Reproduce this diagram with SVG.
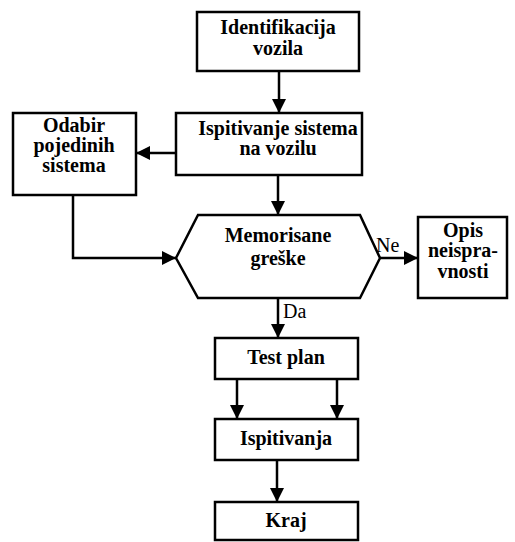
<svg xmlns="http://www.w3.org/2000/svg" width="515" height="542" viewBox="0 0 515 542">
<defs>
<marker id="ah" viewBox="0 0 14 14" refX="14" refY="7" markerWidth="14" markerHeight="14" markerUnits="userSpaceOnUse" orient="auto">
<path d="M0,0 L14,7 L0,14 Z" fill="#000"/>
</marker>
<style>
.box{fill:#fff;stroke:#000;stroke-width:2.5}
.t{font-family:"Liberation Serif","Times New Roman",serif;font-size:20px;font-weight:bold;text-anchor:middle;fill:#000}
.lbl{font-family:"Liberation Serif","Times New Roman",serif;font-size:20px;fill:#000}
.c{fill:none;stroke:#000;stroke-width:2.5}
</style>
</defs>
<rect width="515" height="542" fill="#fff"/>
<g id="connectors">
<path class="c" d="M279,71 V113" marker-end="url(#ah)"/>
<path class="c" d="M176,153 H136" marker-end="url(#ah)"/>
<path class="c" d="M278,175 V215" marker-end="url(#ah)"/>
<path class="c" d="M73,195 V258 H176" marker-end="url(#ah)"/>
<path class="c" d="M380,258 H418" marker-end="url(#ah)"/>
<path class="c" d="M278,298 V338" marker-end="url(#ah)"/>
<path class="c" d="M237,379 V419" marker-end="url(#ah)"/>
<path class="c" d="M337,379 V419" marker-end="url(#ah)"/>
<path class="c" d="M277,460 V502" marker-end="url(#ah)"/>
<text class="lbl" x="376" y="252">Ne</text>
<text class="lbl" x="283" y="318">Da</text>
</g>
<g id="identifikacija">
<rect class="box" x="197" y="12" width="162" height="59"/>
<text class="t" x="278" y="34">Identifikacija</text>
<text class="t" x="278" y="55">vozila</text>
</g>
<g id="ispitivanje-sistema">
<rect class="box" x="176" y="113" width="186" height="62"/>
<text class="t" x="278" y="135">Ispitivanje sistema</text>
<text class="t" x="278" y="155">na vozilu</text>
</g>
<g id="odabir">
<rect class="box" x="13" y="113" width="123" height="82"/>
<text class="t" x="74" y="132">Odabir</text>
<text class="t" x="74" y="152">pojedinih</text>
<text class="t" x="74" y="172">sistema</text>
</g>
<g id="memorisane">
<polygon class="box" points="176,258 198,215 360,215 380,258 360,298 198,298"/>
<text class="t" x="278" y="242">Memorisane</text>
<text class="t" x="278" y="265">greške</text>
</g>
<g id="opis">
<rect class="box" x="418" y="217" width="89" height="81"/>
<text class="t" x="463" y="237">Opis</text>
<text class="t" x="463" y="257">neispra-</text>
<text class="t" x="463" y="278">vnosti</text>
</g>
<g id="test-plan">
<rect class="box" x="215" y="338" width="143" height="41"/>
<text class="t" x="286" y="364">Test plan</text>
</g>
<g id="ispitivanja">
<rect class="box" x="215" y="419" width="143" height="41"/>
<text class="t" x="286" y="445">Ispitivanja</text>
</g>
<g id="kraj">
<rect class="box" x="215" y="502" width="143" height="38"/>
<text class="t" x="286" y="527">Kraj</text>
</g>
</svg>
